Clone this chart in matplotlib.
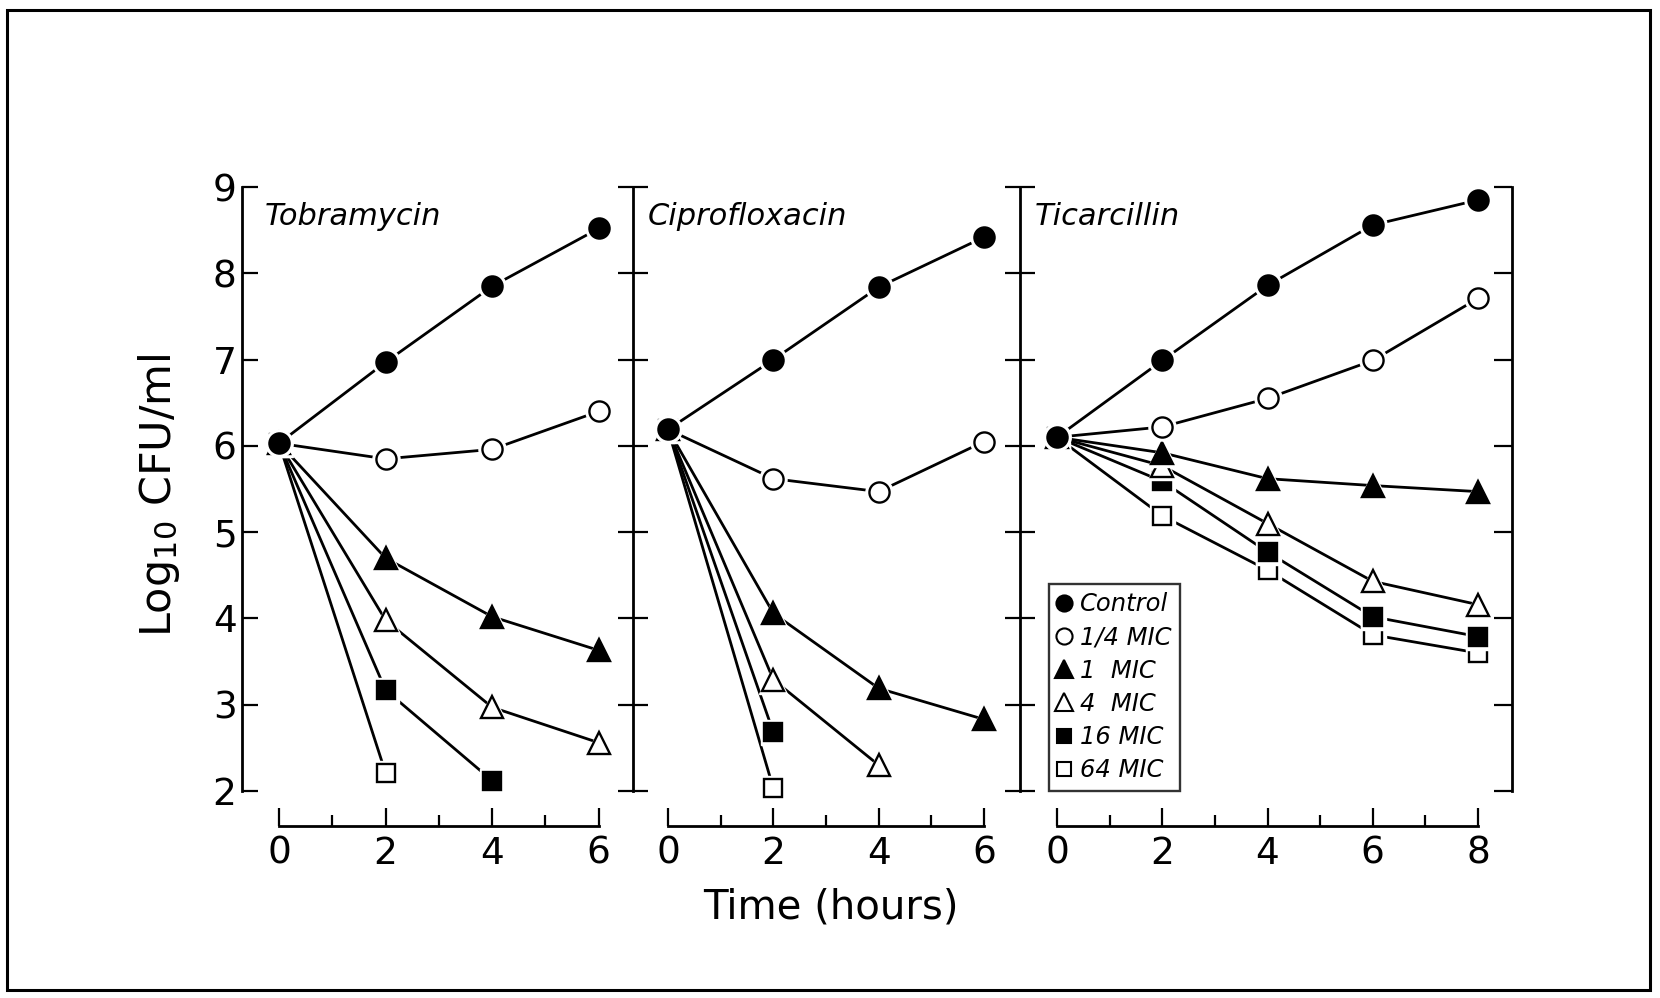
"""Time-kill curves for three antibiotics (log10 CFU/ml vs time)."""

import matplotlib

matplotlib.use("Agg")

import matplotlib.pyplot as plt
from matplotlib.patches import Rectangle
from matplotlib.ticker import MultipleLocator

plt.rcParams["font.family"] = ["DejaVu Sans"]

# --- data ---------------------------------------------------------------------
series_labels = ["Control", "1/4 MIC", "1  MIC", "4  MIC", "16 MIC", "64 MIC"]
series_markers = ["o", "o", "^", "^", "s", "s"]
series_filled = [True, False, True, False, True, False]

tobra_hours = [
    [0, 2, 4, 6],
    [0, 2, 4, 6],
    [0, 2, 4, 6],
    [0, 2, 4, 6],
    [0, 2, 4],
    [0, 2],
]
tobra_log_cfu = [
    [6.03, 6.97, 7.85, 8.52],
    [6.03, 5.85, 5.96, 6.40],
    [6.03, 4.70, 4.02, 3.63],
    [6.03, 3.98, 2.97, 2.56],
    [6.03, 3.17, 2.12],
    [6.03, 2.21],
]

cipro_hours = [
    [0, 2, 4, 6],
    [0, 2, 4, 6],
    [0, 2, 4, 6],
    [0, 2, 4],
    [0, 2],
    [0, 2],
]
cipro_log_cfu = [
    [6.19, 7.00, 7.84, 8.42],
    [6.19, 5.62, 5.47, 6.05],
    [6.19, 4.06, 3.19, 2.83],
    [6.19, 3.29, 2.30],
    [6.19, 2.68],
    [6.19, 2.03],
]

ticar_hours = [[0, 2, 4, 6, 8]] * 6
ticar_log_cfu = [
    [6.10, 6.99, 7.86, 8.56, 8.85],
    [6.10, 6.22, 6.55, 6.99, 7.71],
    [6.10, 5.92, 5.62, 5.54, 5.47],
    [6.10, 5.77, 5.10, 4.43, 4.16],
    [6.10, 5.59, 4.77, 4.02, 3.79],
    [6.10, 5.19, 4.56, 3.81, 3.60],
]

panel_titles = ["Tobramycin", "Ciprofloxacin", "Ticarcillin"]
panel_max_hour = [6, 6, 8]
y_ticks = [2, 3, 4, 5, 6, 7, 8, 9]

# --- layout (figure fractions, tuned to the reference) -----------------------
W, H = 1660, 998
Y_BOTTOM = 1 - 877.3 / H
Y_HEIGHT = (877.3 - 143.9) / H
panel_boxes = [(242, 633), (633, 1020), (1020, 1512)]
panel_xlims = [(-0.694, 6.642), (-0.665, 6.683), (-0.703, 8.645)]
title_x = [0.059, 0.039, 0.030]
XAXIS_Y = 1.594
LW = 2.0
MS = {"o": 14.5, "^": 15.5, "s": 13.0}


def draw_panel(ax, hours, values, title, x_title, max_hour, xlim):
    # draw in reverse so the control series ends up on top at t = 0
    series = list(zip(hours, values, series_markers, series_filled))[::-1]
    for k, (h, v, m, filled) in enumerate(series):
        z = 2 + 3 * k
        ax.plot(h, v, color="black", lw=LW, zorder=z, solid_capstyle="butt")
        ax.plot(h, v, ls="none", marker=m, ms=MS[m] + 5, mfc="white",
                mec="white", zorder=z + 1)
        ax.plot(h, v, ls="none", marker=m, ms=MS[m],
                mfc="black" if filled else "white", mec="black", mew=1.7,
                zorder=z + 2)
    ax.set_xlim(*xlim)
    ax.set_ylim(1.0, 9.5)
    ax.patch.set_alpha(0)
    ax.text(x_title, 0.889, title, transform=ax.transAxes, fontsize=22,
            style="italic", va="baseline")

    ax.spines["top"].set_visible(False)
    ax.spines["bottom"].set_position(("data", XAXIS_Y))
    ax.spines["bottom"].set_bounds(0, max_hour)
    ax.spines["bottom"].set_linewidth(LW)
    ax.xaxis.set_minor_locator(MultipleLocator(1))
    ax.set_xticks(list(range(0, max_hour + 1, 2)))
    ax.tick_params(axis="x", which="major", direction="in", length=13,
                   width=1.6, pad=7, labelsize=27)
    ax.tick_params(axis="x", which="minor", direction="in", length=8,
                   width=1.6)
    ax.set_yticks(y_ticks)
    for side in ("left", "right"):
        ax.spines[side].set_bounds(2, 9)
        ax.spines[side].set_linewidth(LW)


fig = plt.figure(figsize=(W / 100, H / 100), dpi=100)
axes = []
datasets = [
    (tobra_hours, tobra_log_cfu),
    (cipro_hours, cipro_log_cfu),
    (ticar_hours, ticar_log_cfu),
]
for i, ((left, right), xlim) in enumerate(zip(panel_boxes, panel_xlims)):
    ax = fig.add_axes([left / W, Y_BOTTOM, (right - left) / W, Y_HEIGHT])
    hours, values = datasets[i]
    draw_panel(ax, hours, values, panel_titles[i], title_x[i],
               panel_max_hour[i], xlim)
    axes.append(ax)

ax_tob, ax_cip, ax_tic = axes

# Tobramycin: left axis with labels, ticks pointing inwards
ax_tob.spines["right"].set_visible(False)
ax_tob.yaxis.set_ticks_position("left")
ax_tob.tick_params(axis="y", direction="in", length=11.5, width=1.6,
                   pad=4, labelsize=27)

# Ciprofloxacin: both separators with crossing ticks
ax_cip.yaxis.set_ticks_position("both")
ax_cip.tick_params(axis="y", direction="inout", length=21, width=1.6,
                   labelleft=False, labelright=False)

# Ticarcillin: right axis only, ticks inwards
ax_tic.spines["left"].set_visible(False)
ax_tic.yaxis.set_ticks_position("right")
ax_tic.tick_params(axis="y", direction="in", length=13, width=1.6,
                   labelright=False)

# legend inside the Ticarcillin panel
handles = []
for label, m, filled in zip(series_labels, series_markers, series_filled):
    (h,) = ax_tic.plot([], [], ls="none", marker=m, ms=MS[m] * 0.8,
                       mfc="black" if filled else "white", mec="black",
                       mew=1.5, label=label)
    handles.append(h)
leg = ax_tic.legend(handles=handles, loc="lower left",
                    bbox_to_anchor=(0.058, 0.1177), borderaxespad=0,
                    frameon=True, fancybox=False, handlelength=0.6,
                    handletextpad=0.35, labelspacing=0.38, borderpad=0.35,
                    prop={"size": 17.5, "style": "italic"})
leg.get_frame().set_edgecolor("black")
leg.get_frame().set_linewidth(1.7)
leg.set_zorder(30)

fig.text(159 / W, 1 - 495 / H, "Log$_{10}$ CFU/ml", rotation=90,
         ha="center", va="center", fontsize=31)
fig.text(831 / W, 1 - 907 / H, "Time (hours)", ha="center", va="center",
         fontsize=29)

fig.patches.append(Rectangle((7 / W, 1 - 990 / H), (1650 - 7) / W,
                             (990 - 10) / H, transform=fig.transFigure,
                             fill=False, edgecolor="black", linewidth=2.2))

fig.savefig("out.png", dpi=100)
